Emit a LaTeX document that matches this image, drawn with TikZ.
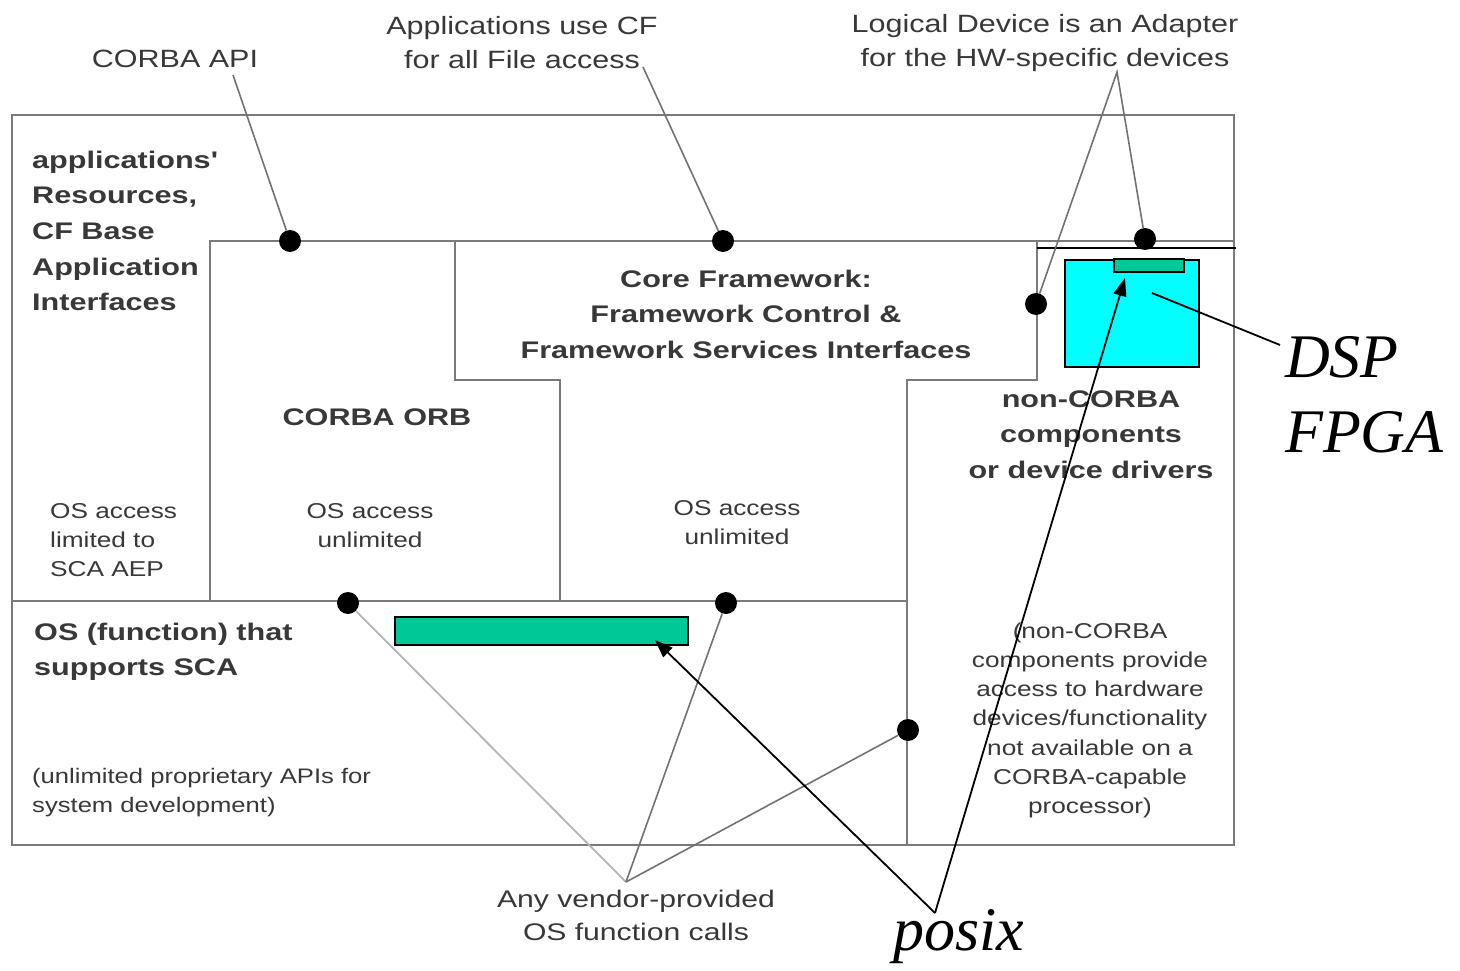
\documentclass[tikz,border=0pt]{standalone}
\usepackage{fontspec}
\usepackage{graphicx}
\setmainfont{Liberation Sans}
\newfontfamily\timesfam{Liberation Serif}
\usetikzlibrary{arrows.meta}
\definecolor{framegray}{HTML}{7A7A7A}
\definecolor{leadgray}{HTML}{727272}
\definecolor{lightlead}{HTML}{B4B4B4}
\definecolor{txtgray}{HTML}{383838}
\definecolor{cyanfill}{HTML}{00FFFF}
\definecolor{greenfill}{HTML}{00C896}
\newcommand\wtxt[2][c]{\scalebox{1.22}[1]{\begin{tabular}[t]{@{}#1@{}}#2\end{tabular}}}
\newcommand\wtxtb[2][c]{\scalebox{1.275}[1]{\begin{tabular}[t]{@{}#1@{}}#2\end{tabular}}}
\newcommand\wtxtv[2][c]{\scalebox{1.255}[1]{\begin{tabular}[t]{@{}#1@{}}#2\end{tabular}}}
\newcommand\FTop{\fontsize{25}{33.5}\selectfont}
\newcommand\FBold{\bfseries\fontsize{24}{35.7}\selectfont}
\newcommand\FSmall{\fontsize{21.5}{29.3}\selectfont}
\newcommand\FNote{\fontsize{21}{29}\selectfont}
\newcommand\FVend{\fontsize{24}{33}\selectfont}
\newcommand\FBig{\timesfam\itshape\fontsize{62}{75}\selectfont}
\begin{document}
\begin{tikzpicture}[x=1pt,y=-1pt,
  frameline/.style={draw=framegray,line width=2.6pt},
  lbl/.style={inner sep=0pt,text=txtgray},
  dot/.style={circle,fill=black,inner sep=0pt,minimum size=22pt},
  leader/.style={draw=leadgray,line width=1.6pt},
  lightleader/.style={draw=lightlead,line width=1.8pt},
  pointer/.style={draw=black,line width=1.8pt,-{Triangle[length=18pt,width=13pt]}},
  greenbar/.style={draw=black,fill=greenfill,line width=2pt,inner sep=0pt},
  cyanbox/.style={draw=black,fill=cyanfill,line width=2.2pt,inner sep=0pt}]
\useasboundingbox (0,0) rectangle (1460,971);
\fill[white] (0,0) rectangle (1460,971);

% frame
\draw[frameline] (12,115) rectangle (1234,845);
\draw[frameline] (210,601) -- (210,241) -- (1234,241);
\draw[frameline] (455,241) -- (455,380) -- (560,380) -- (560,601);
\draw[frameline] (12,601) -- (907,601);
\draw[frameline] (1037,241) -- (1037,380) -- (907,380) -- (907,845);
\draw[black,line width=2pt] (1037,248) -- (1236,248);

% coloured boxes
\node[cyanbox,minimum width=134pt,minimum height=107pt] (dspbox) at (1132,313.5) {};
\node[greenbar,minimum width=70pt,minimum height=13pt] (chip) at (1149,265.5) {};
\node[greenbar,minimum width=293pt,minimum height=28pt] (bar) at (541.5,631) {};

% texts
\node[lbl,font=\FTop,anchor=base] (corbaapi) at (175,68) {\wtxt{CORBA API}};
\node[lbl,font=\FTop,anchor=base] (appcf) at (522,35) {\wtxt{Applications use CF\\for all File access}};
\node[lbl,font=\FTop,anchor=base] (logdev) at (1045,33) {\wtxt{Logical Device is an Adapter\\for the HW-specific devices}};
\node[lbl,font=\FBold,anchor=base west] (appres) at (32,168) {\wtxtb[l]{applications\textquotesingle\\Resources,\\CF Base\\Application\\Interfaces}};
\node[lbl,font=\FBold,anchor=base] (cf) at (746,287) {\wtxtb{Core Framework:\\Framework Control \&\\Framework Services Interfaces}};
\node[lbl,font=\FBold,anchor=base] (orb) at (377,425) {\wtxtb{CORBA ORB}};
\node[lbl,font=\FBold,anchor=base] (noncorba) at (1091,407) {\wtxtb{non-CORBA\\components\\or device drivers}};
\node[lbl,font=\FBold,anchor=base west] (osfunc) at (34,640) {\wtxtb[l]{OS (function) that\\supports SCA}};
\node[lbl,font=\FSmall,anchor=base west] (oslim) at (50,518) {\wtxt[l]{OS access\\limited to\\SCA AEP}};
\node[lbl,font=\FSmall,anchor=base] (osunl1) at (370,518) {\wtxt{OS access\\unlimited}};
\node[lbl,font=\FSmall,anchor=base] (osunl2) at (737,515) {\wtxt{OS access\\unlimited}};
\node[lbl,font=\FSmall,anchor=base] (ncnote) at (1090,638) {\wtxt{(non-CORBA\\components provide\\access to hardware\\devices/functionality\\not available on a\\CORBA-capable\\processor)}};
\node[lbl,font=\FNote,anchor=base west] (unlim) at (32,783) {\wtxt[l]{(unlimited proprietary APIs for\\system development)}};
\node[lbl,font=\FVend,anchor=base] (vendor) at (636,907) {\wtxtv{Any vendor-provided\\OS function calls}};
\node[inner sep=0pt,font=\FBig,anchor=base west] (dsp) at (1285,377) {\begin{tabular}[t]{@{}l@{}}DSP\\FPGA\end{tabular}};
\node[inner sep=0pt,font=\FBig,anchor=base west] (posix) at (893,950) {posix};

% dots
\node[dot] (d1) at (290,241) {};
\node[dot] (d2) at (723,241) {};
\node[dot] (d3) at (1145,239) {};
\node[dot] (d4) at (1036,304) {};
\node[dot] (d5) at (348,603) {};
\node[dot] (d6) at (726,603) {};
\node[dot] (d7) at (908,730) {};

% leader end points
\coordinate (apiend) at (233,75);
\coordinate (cfend) at (643,67);
\coordinate (ldapex) at (1117,72);
\coordinate (vendapex) at (626,882);
\coordinate (posixapex) at (935,913);
\coordinate (bartip) at (655,640);
\coordinate (chiptip) at (1125,278);
\coordinate (dspstart) at (1152,293);
\coordinate (dspend) at (1280,345);

% leaders
\draw[leader] (apiend) -- (d1);
\draw[leader] (cfend) -- (d2);
\draw[leader] (d4) -- (ldapex) -- (d3);
\draw[lightleader] (vendapex) -- (d5);
\draw[leader] (vendapex) -- (d6);
\draw[leader] (vendapex) -- (d7);

% black pointers
\draw[pointer] (posixapex) -- (bartip);
\draw[pointer] (posixapex) -- (chiptip);
\draw[black,line width=1.8pt] (dspstart) -- (dspend);
\end{tikzpicture}
\end{document}
